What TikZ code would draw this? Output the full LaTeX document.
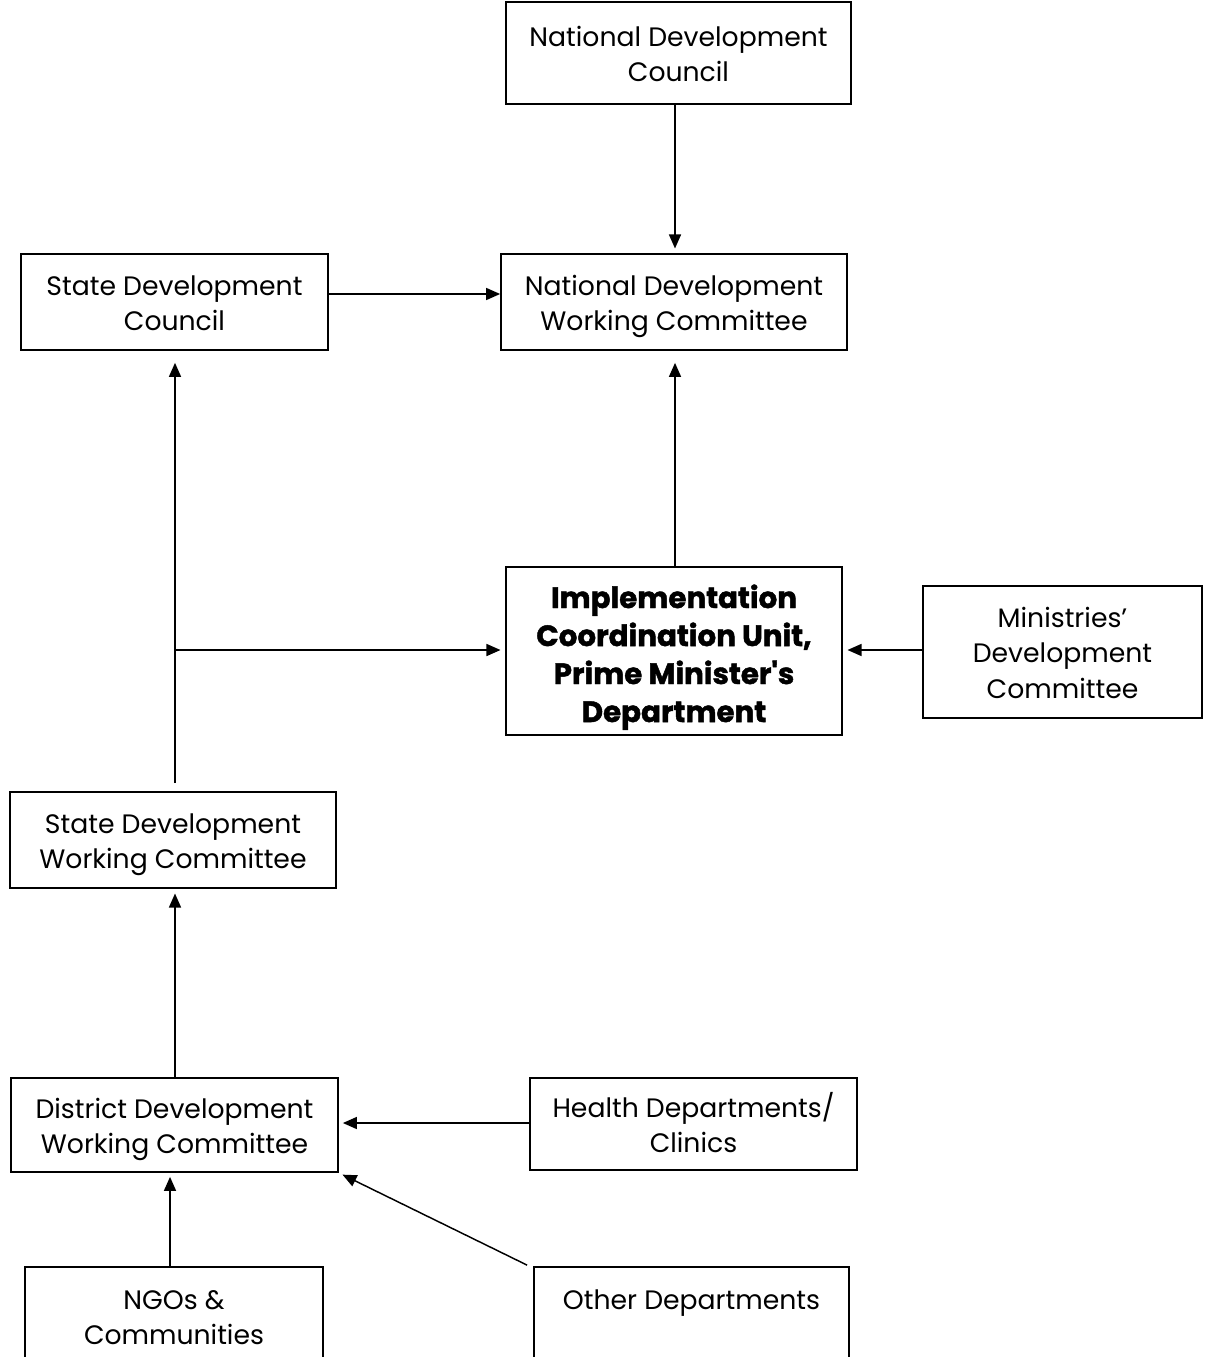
\documentclass[tikz,border=0pt]{standalone}
\usepackage{fontspec}
\setmainfont{Poppins}
\newfontfamily\heavyfont[BoldFeatures={FakeBold=1.5}]{Poppins}
\usetikzlibrary{arrows.meta,fit}
\newcommand{\bt}[2][-8pt]{\raisebox{#1}[0pt][0pt]{\begin{tabular}{@{}c@{}}#2\end{tabular}}}
\begin{document}
\begin{tikzpicture}[x=0.75pt,y=-0.75pt,
  box/.style={draw, line width=1.3pt, inner sep=0pt, font=\fontsize{20}{26.5}\selectfont},
  boldbox/.style={box, font=\fontsize{22}{28.5}\selectfont\heavyfont\bfseries},
  arr/.style={line width=1.1pt, -{Triangle[length=10.5pt,width=9pt]}}]
\useasboundingbox (0,0) rectangle (1204,1357);
\node[box, fit={(506,2) (851,104)}] (ndc) {\bt{National Development\\Council}};
\node[box, fit={(501,254) (847,350)}] (ndwc) {\bt{National Development\\Working Committee}};
\node[box, fit={(21,254) (328,350)}] (sdc) {\bt{State Development\\Council}};
\node[boldbox, fit={(506,567) (842,735)}] (icu) {\bt[-10pt]{Implementation\\Coordination Unit,\\Prime Minister's\\Department}};
\node[box, fit={(923,586) (1202,718)}] (mdc) {\bt{Ministries'\\Development\\Committee}};
\node[box, fit={(10,792) (336,888)}] (sdwc) {\bt{State Development\\Working Committee}};
\node[box, fit={(11,1078) (338,1172)}] (ddwc) {\bt{District Development\\Working Committee}};
\node[box, fit={(530,1078) (857,1170)}] (hdc) {\bt{Health Departments/\\Clinics}};
\node[box, fit={(25,1267) (323,1365)}] (ngo) {\bt{NGOs \&\\Communities}};
\node[box, fit={(534,1267) (849,1365)}] (oth) {\bt{Other Departments\\\mbox{}}};
\coordinate (br) at (175,650);
\draw[arr, shorten >=3.5pt] (ndc.south -| 675,0) -- (ndwc.north -| 675,0);
\draw[arr] (sdc.east |- 0,294) -- (ndwc.west |- 0,294);
\draw[arr, shorten >=9pt] (icu.north -| 675,0) -- (ndwc.south -| 675,0);
\draw[arr, shorten >=9pt, shorten <=6pt] (sdwc.north -| 175,0) -- (sdc.south -| 175,0);
\draw[arr, shorten >=3.5pt] (br) -- (icu.west |- br);
\draw[arr, shorten >=3.5pt] (mdc.west |- br) -- (icu.east |- br);
\draw[arr, shorten >=3.5pt] (ddwc.north -| 175,0) -- (sdwc.south -| 175,0);
\draw[arr, shorten >=3pt] (hdc.west |- 0,1123) -- (ddwc.east |- 0,1123);
\draw[arr, shorten >=3pt] (ngo.north -| 170,0) -- (ddwc.south -| 170,0);
\draw[arr, shorten >=3pt] (oth.north west) ++(-6,-1) coordinate (o1) (o1) -- (ddwc.south east);
\end{tikzpicture}
\end{document}
